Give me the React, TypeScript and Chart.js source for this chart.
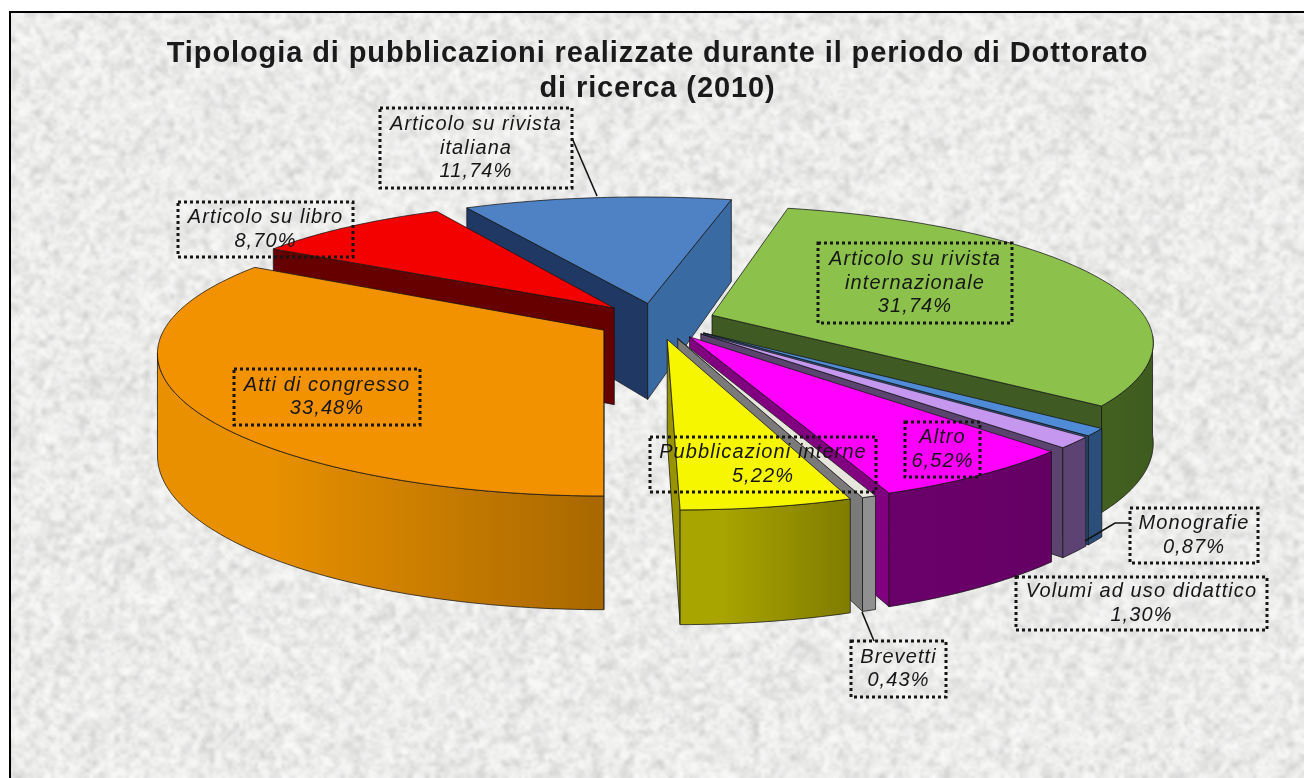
import React, { useEffect, useRef } from "react";
import { Chart, registerables } from "chart.js";

Chart.register(...registerables);

// ---- data ----
const categories = [
  "Articolo su rivista internazionale",
  "Monografie",
  "Volumi ad uso didattico",
  "Altro",
  "Brevetti",
  "Pubblicazioni interne",
  "Atti di congresso",
  "Articolo su libro",
  "Articolo su rivista italiana",
];
const shares = [31.74, 0.87, 1.3, 6.52, 0.43, 5.22, 33.48, 8.7, 11.74];
const shareLabels = ["31,74%", "0,87%", "1,30%", "6,52%", "0,43%", "5,22%", "33,48%", "8,70%", "11,74%"];
const titleLines = [
  "Tipologia di pubblicazioni realizzate durante il periodo di Dottorato",
  "di ricerca (2010)",
];

// ---- styles ----
const topColors = ["#8cc24c", "#4f8bd6", "#c597ef", "#ff00ff", "#e6e6dc", "#f6f600", "#f39200", "#f30000", "#4f82c5"];
const outerFrom = ["#42601f", "#2b4f7a", "#5d4373", "#6a006a", "#909090", "#a8a400", "#e89000", "#8a0000", "#3a6aa2"];
const outerTo = ["#3f5b20", "#2b4f7a", "#5d4373", "#640064", "#909090", "#807c00", "#a86800", "#8a0000", "#3a6aa2"];
const startWall = ["#3f5a22", "#2b4f7a", "#5b4470", "#800080", "#7a7a7a", "#909000", "#c07800", "#660000", "#1f3864"];
const endWall = ["#3f5a22", "#2b4f7a", "#5b4470", "#800080", "#7a7a7a", "#989400", "#c07800", "#660000", "#3a6aa2"];
const paintOrder = [8, 7, 6, 0, 1, 2, 3, 4, 5];

// label layout: [left, top, right, bottom] and text lines
const labelBoxes: number[][] = [
  [818, 243, 1012, 323],
  [1130, 508, 1258, 563],
  [1016, 577, 1267, 630],
  [905, 422, 980, 477],
  [851, 641, 946, 697],
  [650, 437, 876, 492],
  [234, 369, 420, 425],
  [178, 202, 353, 257],
  [380, 108, 572, 188],
];
const labelText: string[][] = [
  ["Articolo su rivista", "internazionale"],
  ["Monografie"],
  ["Volumi ad uso didattico"],
  ["Altro"],
  ["Brevetti"],
  ["Pubblicazioni interne"],
  ["Atti di congresso"],
  ["Articolo su libro"],
  ["Articolo su rivista", "italiana"],
];
const leaders: number[][][] = [
  [[572, 138], [597, 196]],
  [[1130, 523], [1115, 523], [1085, 541]],
  [[862, 612], [874, 641]],
];

// ---- projection ----
const CX = 656, CY = 321, RX = 435, RY = 132, VPX = 605, D = 6, DEPTH = 98;
const project = (X: number, V: number, down: boolean) => {
  const p = D / (D - V);
  return {
    x: VPX + (X - VPX) * p,
    y: CY + RY * V * Math.pow(p, 1.1) + (down ? DEPTH * (1 + 0.15 * V) : 0),
  };
};

let textureCache: HTMLCanvasElement | null = null;
function noiseLayer(w: number, h: number, cell: number, seed: number, maxAlpha: number, shade: number) {
  const c = document.createElement("canvas");
  c.width = Math.ceil(w / cell);
  c.height = Math.ceil(h / cell);
  const g = c.getContext("2d")!;
  const img = g.createImageData(c.width, c.height);
  let s = seed >>> 0;
  for (let i = 0; i < img.data.length; i += 4) {
    s = (Math.imul(s, 1664525) + 1013904223) >>> 0;
    const n = (s >>> 8) / 16777216;
    img.data[i] = img.data[i + 1] = img.data[i + 2] = shade;
    img.data[i + 3] = Math.round(255 * maxAlpha * n * n);
  }
  g.putImageData(img, 0, 0);
  return c;
}
function texture(w: number, h: number) {
  if (textureCache) return textureCache;
  const c = document.createElement("canvas");
  c.width = w;
  c.height = h;
  const g = c.getContext("2d")!;
  g.fillStyle = "#f5f5f4";
  g.fillRect(0, 0, w, h);
  g.imageSmoothingEnabled = true;
  g.imageSmoothingQuality = "high";
  g.drawImage(noiseLayer(w, h, 30, 77, 0.05, 160), 0, 0, w, h);
  g.drawImage(noiseLayer(w, h, 6, 12345, 0.38, 165), 0, 0, w, h);
  g.drawImage(noiseLayer(w, h, 3, 987, 0.2, 165), 0, 0, w, h);
  g.drawImage(noiseLayer(w, h, 5, 4242, 0.6, 255), 0, 0, w, h);
  textureCache = c;
  return c;
}

const backgroundPlugin = {
  id: "paperBackground",
  beforeDraw(chart: any) {
    const { ctx, width, height } = chart;
    ctx.save();
    ctx.fillStyle = "#ffffff";
    ctx.fillRect(0, 0, width, height);
    ctx.drawImage(texture(width, height), 10, 12, width, height, 10, 12, width, height);
    ctx.strokeStyle = "#000000";
    ctx.lineWidth = 2;
    ctx.strokeRect(10, 12, width + 10, height + 10);
    ctx.restore();
    (ctx as any).letterSpacing = "0.9px"; // applies to the title, reset below
  },
};

const pie3dPlugin = {
  id: "pie3d",
  beforeDatasetsDraw(chart: any) {
    (chart.ctx as any).letterSpacing = "0px";
  },
  beforeDatasetDraw() {
    return false; // the arcs are painted in perspective below
  },
  afterDatasetsDraw(chart: any) {
    const { ctx } = chart;
    const arcs = chart.getDatasetMeta(0).data;
    ctx.save();
    ctx.lineJoin = "round";
    ctx.lineWidth = 1;
    ctx.strokeStyle = "rgba(20,20,20,0.75)";
    for (const i of paintOrder) {
      const el = arcs[i];
      const a0 = el.startAngle, a1 = el.endAngle, mid = (a0 + a1) / 2;
      const d = el.options.offset / RX;
      const Ax = CX + RX * d * Math.cos(mid);
      const Av = d * Math.sin(mid);
      const pt = (a: number, down: boolean) =>
        project(Ax + RX * Math.cos(a), Av + Math.sin(a), down);
      const apexT = project(Ax, Av, false);
      const apexB = project(Ax, Av, true);
      const steps = Math.max(4, Math.ceil((a1 - a0) / 0.02));
      const angles: number[] = [];
      for (let k = 0; k <= steps; k++) angles.push(a0 + ((a1 - a0) * k) / steps);
      const midT = pt(mid, false);
      const wall = (a: number, color: string) => {
        const b = pt(a, false);
        const cross = (b.x - apexT.x) * (midT.y - apexT.y) - (b.y - apexT.y) * (midT.x - apexT.x);
        if (Math.sign(b.x - apexT.x) === Math.sign(cross)) return;
        const bb = pt(a, true);
        ctx.beginPath();
        ctx.moveTo(apexT.x, apexT.y);
        ctx.lineTo(b.x, b.y);
        ctx.lineTo(bb.x, bb.y);
        ctx.lineTo(apexB.x, apexB.y);
        ctx.closePath();
        ctx.fillStyle = color;
        ctx.fill();
        ctx.stroke();
      };
      wall(a0, startWall[i]);
      wall(a1, endWall[i]);
      // outer curved wall, only where it faces the viewer
      const tops = angles.map((a) => pt(a, false));
      const front = angles.filter((a) => Math.sin(a) > 0.15);
      if (front.length > 1) {
        const ft = front.map((a) => pt(a, false));
        const fb = front.map((a) => pt(a, true));
        const xs = ft.map((p) => p.x);
        const xMin = Math.min(...xs), xMax = Math.max(...xs);
        const grad = ctx.createLinearGradient(xMin, 0, xMax, 0);
        grad.addColorStop(0, outerFrom[i]);
        grad.addColorStop(0.25, outerFrom[i]);
        grad.addColorStop(1, outerTo[i]);
        ctx.beginPath();
        ft.forEach((p, k) => (k ? ctx.lineTo(p.x, p.y) : ctx.moveTo(p.x, p.y)));
        [...fb].reverse().forEach((p) => ctx.lineTo(p.x, p.y));
        ctx.closePath();
        ctx.fillStyle = grad;
        ctx.fill();
        ctx.stroke();
      }
      // top face
      ctx.beginPath();
      ctx.moveTo(apexT.x, apexT.y);
      tops.forEach((p) => ctx.lineTo(p.x, p.y));
      ctx.closePath();
      ctx.fillStyle = el.options.backgroundColor;
      ctx.fill();
      ctx.stroke();
    }
    ctx.restore();
  },
};

const labelPlugin = {
  id: "dottedLabels",
  afterDraw(chart: any) {
    const { ctx } = chart;
    ctx.save();
    ctx.strokeStyle = "#141414";
    ctx.lineWidth = 1.6;
    for (const path of leaders) {
      ctx.beginPath();
      path.forEach(([x, y], k) => (k ? ctx.lineTo(x, y) : ctx.moveTo(x, y)));
      ctx.stroke();
    }
    ctx.textAlign = "center";
    ctx.textBaseline = "middle";
    ctx.font = 'italic 20px "Liberation Sans", Arial, sans-serif';
    (ctx as any).letterSpacing = "1.1px";
    categories.forEach((_, i) => {
      const [l, t, r, b] = labelBoxes[i];
      ctx.setLineDash([3, 3]);
      ctx.lineWidth = 3;
      ctx.strokeStyle = "#161616";
      ctx.strokeRect(l, t, r - l, b - t);
      ctx.setLineDash([]);
      const lines = [...labelText[i], shareLabels[i]];
      const gap = 23.7;
      const startY = (t + b) / 2 - ((lines.length - 1) * gap) / 2;
      ctx.fillStyle = "#161616";
      lines.forEach((ln, k) => ctx.fillText(ln, (l + r) / 2, startY + k * gap));
    });
    ctx.restore();
  },
};

export default function App() {
  const ref = useRef<HTMLCanvasElement>(null);
  useEffect(() => {
    const chart = new Chart(ref.current!, {
      type: "pie",
      data: {
        labels: categories,
        datasets: [{ data: shares, backgroundColor: topColors, offset: 60, borderWidth: 0 }],
      },
      options: {
        responsive: false,
        animation: false,
        rotation: 14.1,
        layout: { padding: { left: 11 } },
        plugins: {
          legend: { display: false },
          tooltip: { enabled: false },
          title: {
            display: true,
            text: titleLines,
            color: "#1a1a1a",
            font: { family: '"Liberation Sans", Arial, sans-serif', size: 29, weight: "bold", lineHeight: 1.2 },
            padding: { top: 37, bottom: 10 },
          },
        },
      },
      plugins: [backgroundPlugin, pie3dPlugin, labelPlugin],
    } as any);
    return () => chart.destroy();
  }, []);
  return (
    <div style={{ position: "absolute", left: 0, top: 0, width: 1304, height: 778, overflow: "hidden" }}>
      <canvas ref={ref} width={1304} height={778} style={{ display: "block" }} />
    </div>
  );
}
